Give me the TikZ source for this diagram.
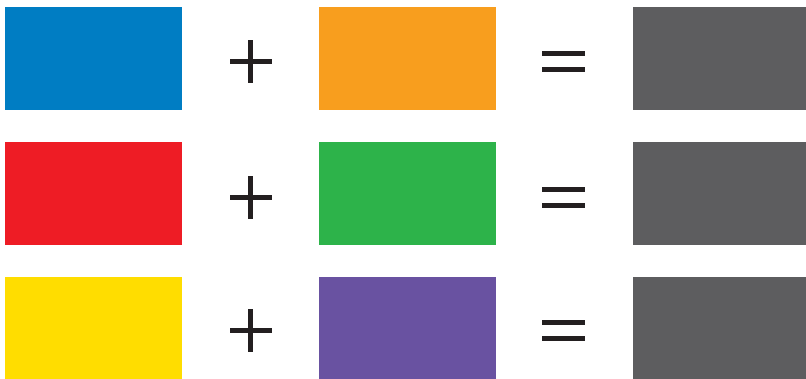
\documentclass[tikz,border=0pt]{standalone}
\definecolor{cblue}{HTML}{007DC3}
\definecolor{corange}{HTML}{F89E1E}
\definecolor{cred}{HTML}{EE1C25}
\definecolor{cgreen}{HTML}{2DB34A}
\definecolor{cyellow}{HTML}{FFDD00}
\definecolor{cpurple}{HTML}{6952A1}
\definecolor{cgray}{HTML}{5D5D5F}
\definecolor{cink}{HTML}{231F20}
\begin{document}
\begin{tikzpicture}[x=1pt,y=-1pt,
  swatch/.style={fill=#1},
  sign/.style={fill=cink}]
\useasboundingbox (0,0) rectangle (806,378);
\foreach \r/\sy/\ca/\cb in {0/0/cblue/corange,1/136/cred/cgreen,2/268.5/cyellow/cpurple}{
  \pgfmathsetmacro{\oy}{135*\r}
  \fill[swatch=\ca] (5,7+\oy) rectangle (182,110+\oy);
  \fill[swatch=\cb] (319,7+\oy) rectangle (496,110+\oy);
  \fill[swatch=cgray] (633,7+\oy) rectangle (806,110+\oy);
  % plus
  \fill[sign] (248,40+\sy) rectangle (253,83+\sy);
  \fill[sign] (230,59+\sy) rectangle (272,64+\sy);
  % equals
  \fill[sign] (542,51+\sy) rectangle (585,56+\sy);
  \fill[sign] (542,67+\sy) rectangle (585,72+\sy);
}
\end{tikzpicture}
\end{document}
